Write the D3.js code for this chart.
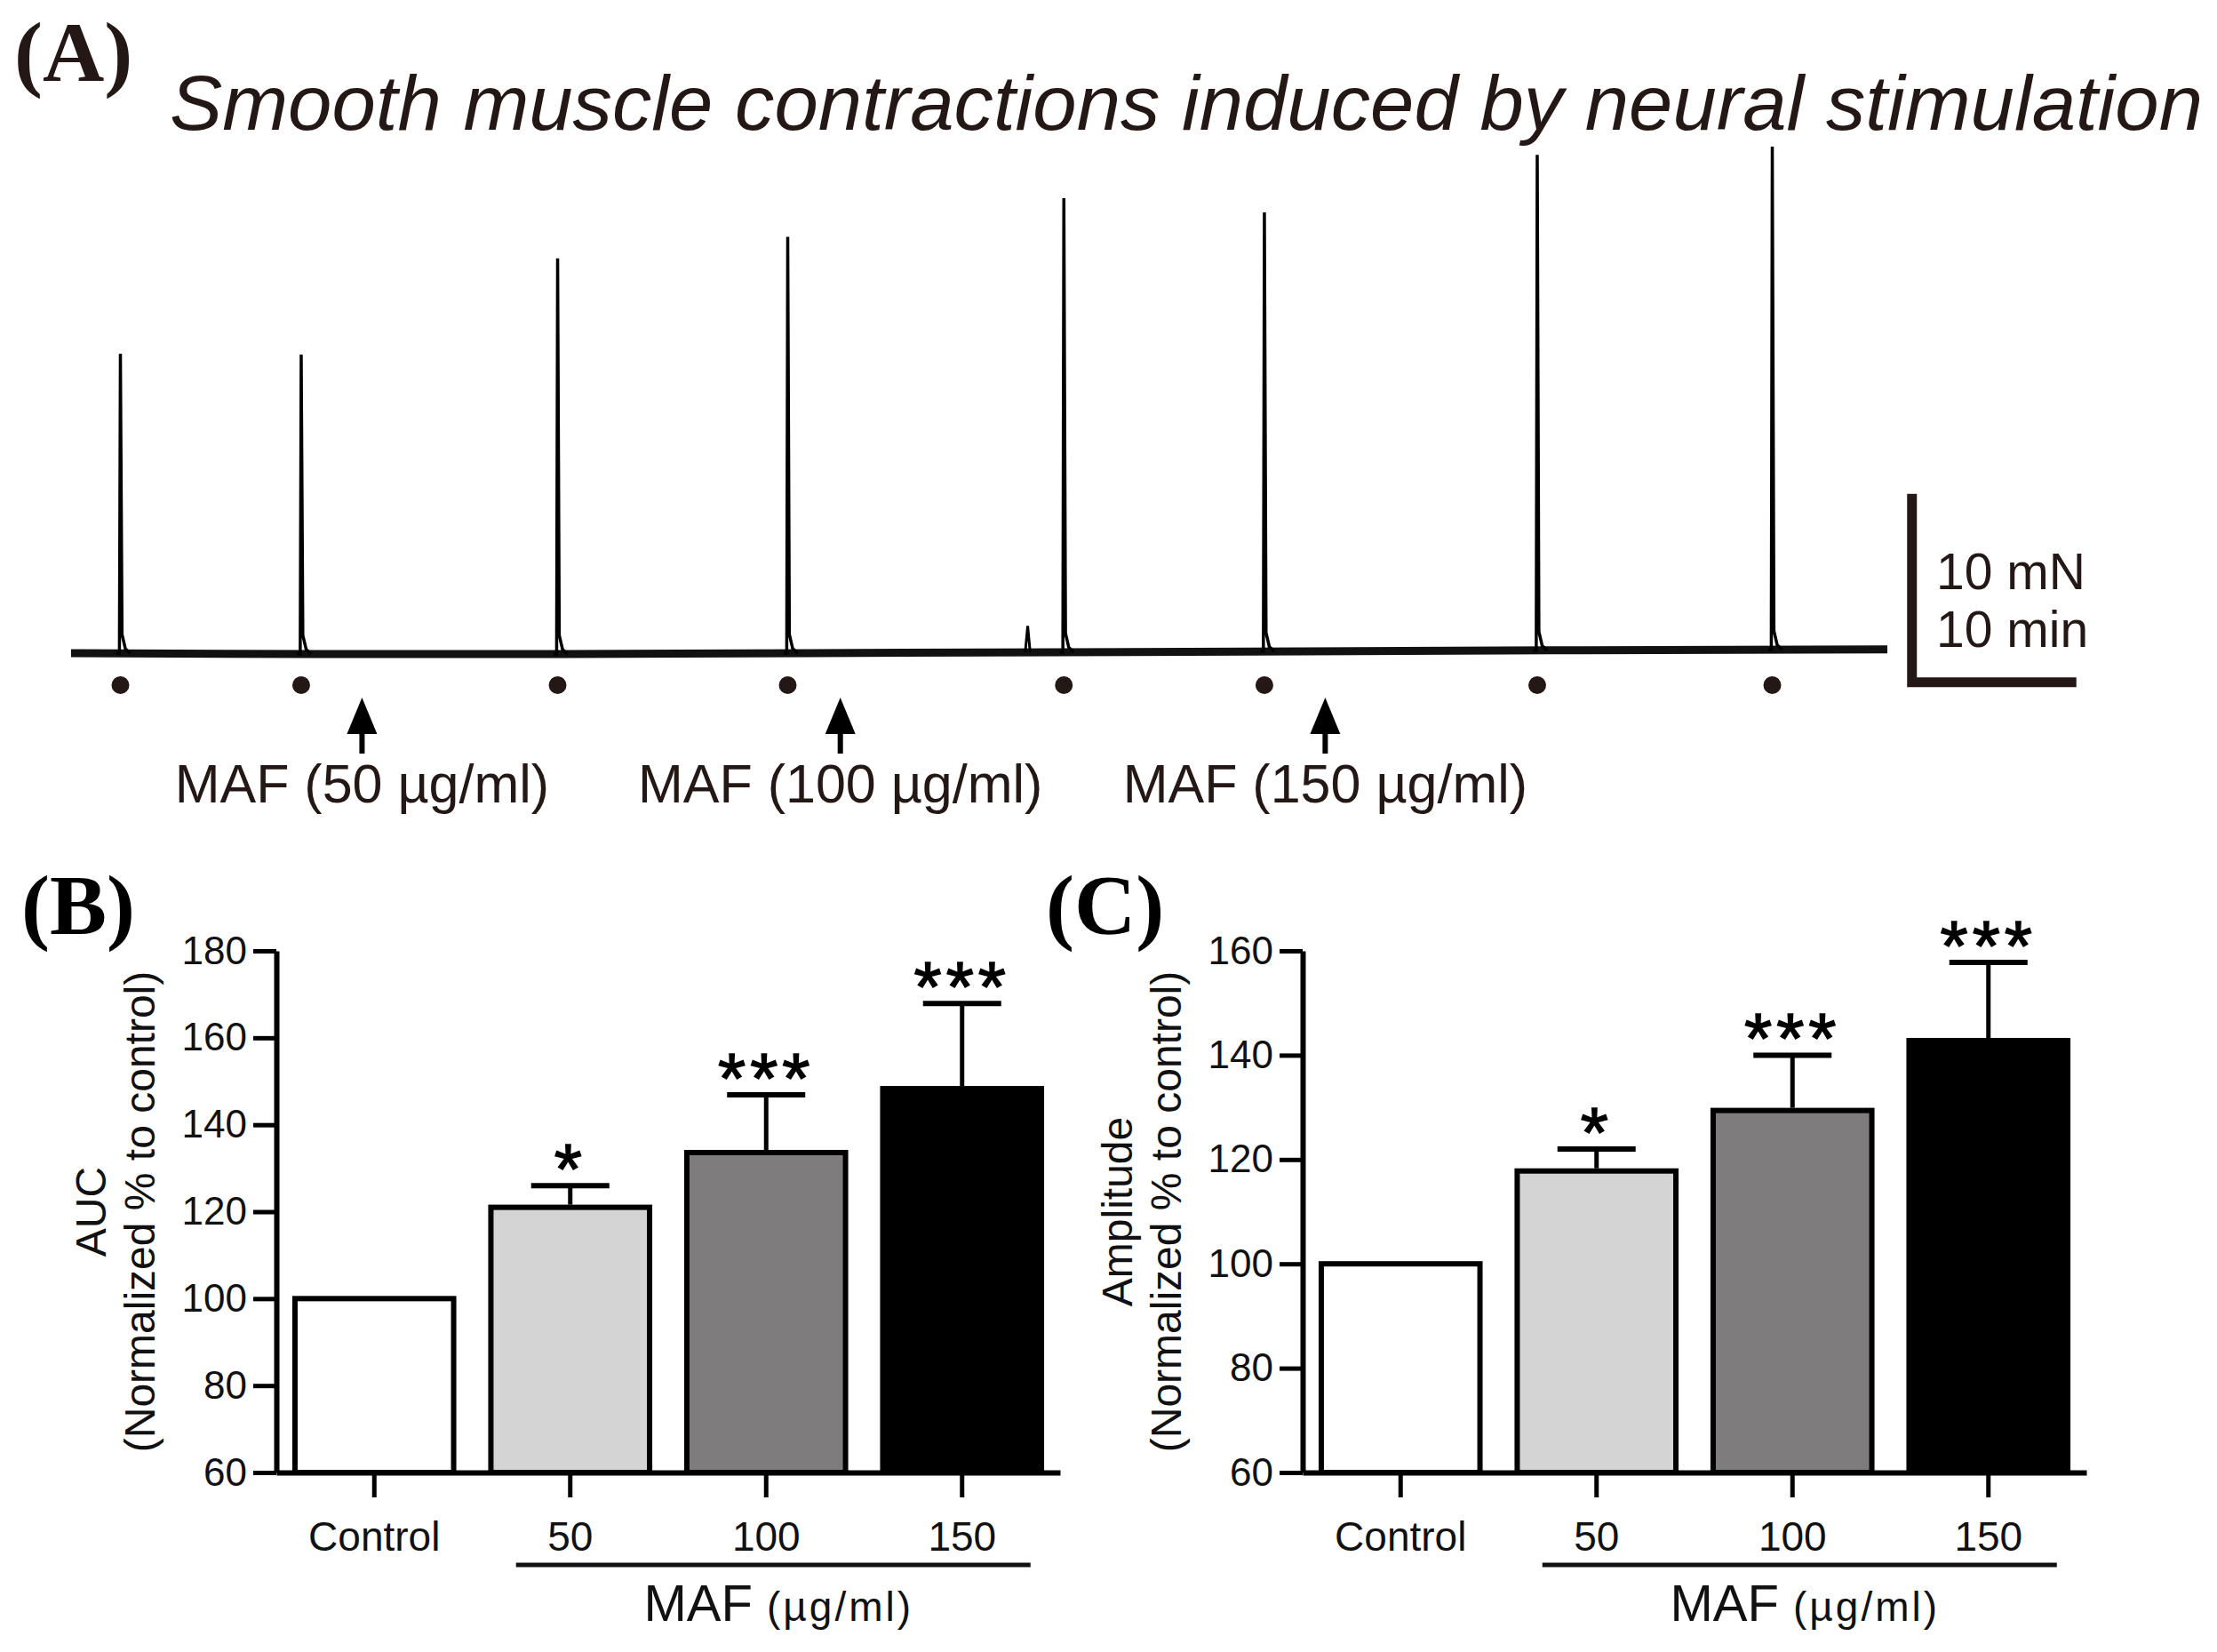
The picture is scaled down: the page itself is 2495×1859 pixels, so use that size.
<!DOCTYPE html>
<html>
<head>
<meta charset="utf-8">
<script src="https://cdn.jsdelivr.net/npm/d3@7"></script>
<style>
  body { margin: 0; background: #fff; }
  svg { display: block; font-family: "Liberation Sans", Arial, sans-serif; }
</style>
</head>
<body>
<div id="figure"></div>
<script>
// ---- data ----
// (A) trace: stimulation times (min) and peak force above baseline (mN)
var stimTimes = [3.0, 14.0, 29.6, 43.6, 60.4, 72.6, 89.2, 103.5];
var peakForce = [15.9, 15.9, 21.0, 22.1, 24.1, 23.3, 26.3, 26.7];
// small artefact before the 5th contraction
var artifactTimes = [58.2];
var artifactForce = [1.4];
// slow drift of the resting tension (mN)
var baselineTimes = [0, 15, 30, 45, 60, 75, 90, 110.5];
var baselineLevels = [0, -0.05, -0.05, 0.0, 0.05, 0.1, 0.15, 0.2];
// MAF additions
var mafTimes = [17.7, 46.8, 76.3];
var mafLabels = ["MAF (50 \u00b5g/ml)", "MAF (100 \u00b5g/ml)", "MAF (150 \u00b5g/ml)"];

// (B) and (C) bar charts
var groups = ["Control", "50", "100", "150"];
var barFills = ["#ffffff", "#d4d4d4", "#7f7c7d", "#000000"];
var aucMean = [100, 121.0, 133.6, 148.3];
var aucSem = [0, 5.0, 13.3, 19.6];
var ampMean = [100, 117.8, 129.4, 142.8];
var ampSem = [0, 4.2, 10.6, 15.0];
var signif = ["", "*", "***", "***"];
var aucTicks = [60, 80, 100, 120, 140, 160, 180];
var ampTicks = [60, 80, 100, 120, 140, 160];

var svgWidth = 2495;
var svgHeight = 1859;
var ink = "#231815";

var svg = d3.select("#figure")
  .append("svg")
  .attr("width", svgWidth)
  .attr("height", svgHeight);

svg.append("rect")
  .attr("width", svgWidth)
  .attr("height", svgHeight)
  .attr("fill", "#fff");

// ================= (A) =================
svg.append("text")
  .attr("x", 16)
  .attr("y", 91)
  .attr("font-family", "Liberation Serif, serif")
  .attr("font-weight", "bold")
  .attr("font-size", 96)
  .attr("fill", ink)
  .text("(A)");

svg.append("text")
  .attr("x", 191)
  .attr("y", 146)
  .attr("font-style", "italic")
  .attr("font-size", 88)
  .attr("fill", ink)
  .attr("textLength", 2288)
  .attr("lengthAdjust", "spacingAndGlyphs")
  .text("Smooth muscle contractions induced by neural stimulation");

var xA = d3.scaleLinear().domain([0, 110.5]).range([80, 2124]);
var yA = d3.scaleLinear().domain([0, 10]).range([735, 523]);
var drift = d3.scaleLinear().domain(baselineTimes).range(baselineLevels);

var line = d3.line()
  .x(d => xA(d[0]))
  .y(d => yA(d[1]));

// resting tension (noisy band in the recording)
svg.append("path")
  .attr("d", line(baselineTimes.map((t, i) => [t, baselineLevels[i]])))
  .attr("fill", "none")
  .attr("stroke", "#111")
  .attr("stroke-width", 9);

// contractions
function spike(t, f) {
  var b = drift(t);
  return [[t - 0.25, b], [t - 0.06, b], [t, b + f], [t + 0.1, b + 1.0], [t + 0.3, b + 0.25], [t + 0.6, b]];
}

svg.append("g").selectAll("path")
  .data(stimTimes.map((t, i) => spike(t, peakForce[i])))
  .enter()
  .append("path")
  .attr("d", line)
  .attr("fill", "none")
  .attr("stroke", "#000")
  .attr("stroke-width", 3.5)
  .attr("stroke-linejoin", "miter");

svg.append("g").selectAll("path")
  .data(artifactTimes.map((t, i) => [[t - 0.15, drift(t)], [t, drift(t) + artifactForce[i]], [t + 0.15, drift(t)]]))
  .enter()
  .append("path")
  .attr("d", line)
  .attr("fill", "none")
  .attr("stroke", "#000")
  .attr("stroke-width", 3);

// stimulation dots
svg.append("g").selectAll("circle")
  .data(stimTimes)
  .enter()
  .append("circle")
  .attr("cx", d => xA(d))
  .attr("cy", yA(-1.7))
  .attr("r", 10)
  .attr("fill", ink);

// MAF arrows + labels
var arrows = svg.append("g").selectAll("g")
  .data(mafTimes)
  .enter()
  .append("g")
  .attr("transform", d => `translate(${xA(d)},0)`);

arrows.append("line")
  .attr("x1", 0).attr("x2", 0)
  .attr("y1", 848).attr("y2", 815)
  .attr("stroke", "#000")
  .attr("stroke-width", 6);

arrows.append("path")
  .attr("d", "M0,785 L-17,826 L17,826 Z")
  .attr("fill", "#000");

arrows.append("text")
  .attr("y", 903)
  .attr("text-anchor", "middle")
  .attr("font-size", 61)
  .attr("fill", ink)
  .text((d, i) => mafLabels[i]);

// scale bar: 10 mN / 10 min
var sbT = 112.0, sbF = -1.55;
svg.append("path")
  .attr("d", `M${xA(sbT)},${yA(sbF + 10)} L${xA(sbT)},${yA(sbF)} L${xA(sbT + 10)},${yA(sbF)}`)
  .attr("fill", "none")
  .attr("stroke", ink)
  .attr("stroke-width", 11);

svg.append("text")
  .attr("x", 2179).attr("y", 663)
  .attr("font-size", 57)
  .attr("fill", ink)
  .text("10 mN");

svg.append("text")
  .attr("x", 2179).attr("y", 728)
  .attr("font-size", 57)
  .attr("fill", ink)
  .text("10 min");

// ================= (B) / (C) =================
function barPanel(opts) {
  var g = svg.append("g");

  var x = d3.scaleBand()
    .domain(groups)
    .range([opts.left, opts.left + 882])
    .paddingInner(0.19)
    .paddingOuter(0.095);

  var y = d3.scaleLinear()
    .domain(opts.domain)
    .range([1657, 1070]);

  // panel letter
  g.append("text")
    .attr("x", opts.labelX)
    .attr("y", 1051)
    .attr("font-family", "Liberation Serif, serif")
    .attr("font-weight", "bold")
    .attr("font-size", 96)
    .attr("fill", "#000")
    .text(opts.letter);

  // bars
  g.append("g").selectAll("rect")
    .data(opts.mean)
    .enter()
    .append("rect")
    .attr("x", (d, i) => x(groups[i]))
    .attr("y", d => y(d))
    .attr("width", x.bandwidth())
    .attr("height", d => y(opts.domain[0]) - y(d))
    .attr("fill", (d, i) => barFills[i])
    .attr("stroke", "#000")
    .attr("stroke-width", 6);

  // error bars (upper only)
  var eb = g.append("g").selectAll("g")
    .data(opts.mean.map((m, i) => ({ m: m, s: opts.sem[i], i: i })).filter(d => d.s > 0))
    .enter()
    .append("g")
    .attr("transform", d => `translate(${x(groups[d.i]) + x.bandwidth() / 2},0)`);

  eb.append("line")
    .attr("x1", 0).attr("x2", 0)
    .attr("y1", d => y(d.m) - 3)
    .attr("y2", d => y(d.m + d.s))
    .attr("stroke", "#000")
    .attr("stroke-width", 5);

  eb.append("line")
    .attr("x1", -44).attr("x2", 44)
    .attr("y1", d => y(d.m + d.s))
    .attr("y2", d => y(d.m + d.s))
    .attr("stroke", "#000")
    .attr("stroke-width", 6);

  eb.append("text")
    .attr("y", d => y(d.m + d.s) + 9)
    .attr("text-anchor", "middle")
    .attr("font-size", 80)
    .attr("letter-spacing", 5)
    .attr("stroke", "#000")
    .attr("stroke-width", 1.5)
    .attr("fill", "#000")
    .text(d => signif[d.i]);

  // axes
  var leftAxis = d3.axisLeft(y)
    .tickValues(opts.ticks)
    .tickSizeInner(26)
    .tickSizeOuter(0)
    .tickPadding(7);

  var bottomAxis = d3.axisBottom(x)
    .tickSizeInner(28)
    .tickSizeOuter(0)
    .tickPadding(27);

  var ya = g.append("g")
    .attr("transform", `translate(${opts.left},0)`)
    .call(leftAxis);

  var xa = g.append("g")
    .attr("transform", "translate(0,1657)")
    .call(bottomAxis);

  [ya, xa].forEach(function(a) {
    a.select(".domain").attr("stroke", "#000").attr("stroke-width", 6);
    a.selectAll(".tick line").attr("stroke", "#000").attr("stroke-width", 5);
    a.selectAll(".tick text")
      .attr("font-family", "Liberation Sans, Arial, sans-serif")
      .attr("font-size", 44)
      .attr("fill", "#111");
  });
  xa.selectAll(".tick text").attr("font-size", 46);

  // MAF bracket line
  var c50 = x("50") + x.bandwidth() / 2;
  var c150 = x("150") + x.bandwidth() / 2;
  g.append("line")
    .attr("x1", c50 - 61).attr("x2", c150 + 77)
    .attr("y1", 1761).attr("y2", 1761)
    .attr("stroke", "#111")
    .attr("stroke-width", 5);

  var maf = g.append("text")
    .attr("x", (c50 + c150) / 2 + 14)
    .attr("y", 1824)
    .attr("text-anchor", "middle")
    .attr("fill", "#111");
  maf.append("tspan").attr("font-size", 58).text("MAF ");
  maf.append("tspan").attr("font-size", 46).attr("letter-spacing", 3).text("(\u00b5g/ml)");

  // y label
  var yc = (1657 + 1070) / 2;
  opts.ylab.forEach(function(t, k) {
    var bx = opts.left + (k === 0 ? -192 : -137);
    g.append("text")
      .attr("transform", `translate(${bx},${yc}) rotate(-90)`)
      .attr("text-anchor", "middle")
      .attr("font-size", 48)
      .attr("fill", "#111")
      .text(t);
  });
}

barPanel({
  letter: "(B)", labelX: 24, left: 311,
  domain: [60, 180], ticks: aucTicks,
  mean: aucMean, sem: aucSem,
  ylab: ["AUC", "(Normalized % to control)"]
});

barPanel({
  letter: "(C)", labelX: 1177, left: 1466,
  domain: [60, 160], ticks: ampTicks,
  mean: ampMean, sem: ampSem,
  ylab: ["Amplitude", "(Normalized % to control)"]
});
</script>
</body>
</html>
